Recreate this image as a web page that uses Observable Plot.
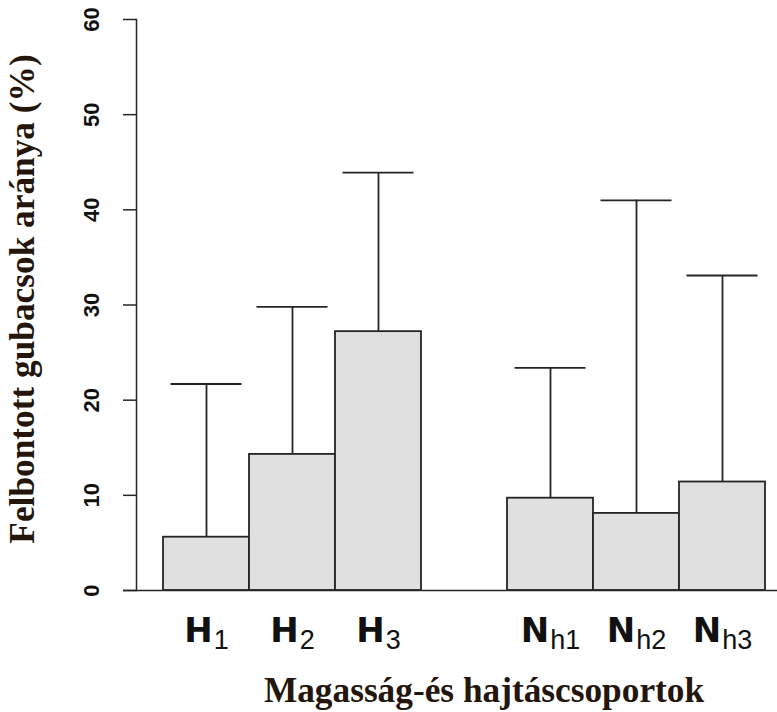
<!DOCTYPE html>
<html><head><meta charset="utf-8">
<script src="https://cdn.jsdelivr.net/npm/d3@7"></script>
<script src="https://cdn.jsdelivr.net/npm/@observablehq/plot@0.6"></script>
<style>body{margin:0;background:#fff} svg{display:block}</style>
</head><body><div id="chart"></div>
<script>
// Categories (underscore marks the subscript part of each label)
const groupH = ["H_1", "H_2", "H_3"];
const groupN = ["N_h1", "N_h2", "N_h3"];
const categories = [...groupH, ...groupN];
// Bar heights (mean %) and upper error-bar ends (%)
const means  = [5.6, 14.3, 27.2, 9.7, 8.1, 11.4];
const uppers = [21.7, 29.8, 43.9, 23.4, 41.0, 33.1];
const yTicks = [0, 10, 20, 30, 40, 50, 60];
const xTitle = "Magasság-és hajtáscsoportok";
const yTitle = "Felbontott gubacsok aránya (%)";
const gap = "gap";

const domain = [...groupH, gap, ...groupN];
const data = categories.map((c, i) => ({cat: c, mean: means[i], upper: uppers[i]}));
const ink = "#252525";
const titleColor = "#24160c";

const plot = Plot.plot({
  width: 777, height: 712,
  marginTop: 19, marginBottom: 122, marginLeft: 136, marginRight: 0,
  x: {type: "band", domain, range: [160, 767], padding: 0, axis: null},
  y: {domain: [0, 60], axis: null},
  style: {background: "#fff"},
  marks: [
    Plot.barY(data, {x: "cat", y: "mean", fill: "#e0e0e0", stroke: ink, strokeWidth: 1.8}),
    Plot.ruleX(data, {x: "cat", y1: "mean", y2: "upper", stroke: ink, strokeWidth: 1.8}),
    Plot.tickY(data, {x: "cat", y: "upper", stroke: ink, strokeWidth: 1.8, insetLeft: 7.5, insetRight: 7.5}),
    Plot.ruleY([0], {stroke: ink, strokeWidth: 1.5, insetLeft: -13}),
    Plot.frame({anchor: "left", stroke: ink, strokeWidth: 1.5}),
    Plot.axisY(yTicks, {tickSize: 13, fill: "none", label: null, stroke: ink, strokeWidth: 1.5}),
    Plot.text(yTicks, {y: d => d, text: d => String(d), frameAnchor: "left", rotate: -90, dx: -38,
      lineAnchor: "bottom", textAnchor: "middle", fontSize: 22, fontWeight: "bold",
      fontFamily: "Liberation Sans, Arial, sans-serif", fill: "#111"}),
    Plot.text(categories, {x: d => d, text: d => d, frameAnchor: "bottom", dy: 51.7,
      lineAnchor: "bottom", textAnchor: "middle", fontSize: 34, fontWeight: "bold",
      fontFamily: "DejaVu Sans, sans-serif", fill: "#111"}),
    Plot.text([xTitle], {text: d => d, frameAnchor: "bottom", dx: 27, dy: 111.7,
      lineAnchor: "bottom", textAnchor: "middle", fontSize: 35.3, fontWeight: "bold",
      fontFamily: "Liberation Serif, Times New Roman, serif", fill: titleColor}),
    Plot.text([yTitle], {text: d => d, frameAnchor: "left", rotate: -90, dx: -102.7, dy: -6,
      lineAnchor: "bottom", textAnchor: "middle", fontSize: 35.3, fontWeight: "bold",
      fontFamily: "Liberation Serif, Times New Roman, serif", fill: titleColor})
  ]
});

document.getElementById("chart").appendChild(plot);

// turn the part after "_" into a subscript
d3.select(plot).selectAll("text").each(function () {
  const t = this.textContent;
  const k = t.indexOf("_");
  if (k < 0) return;
  this.textContent = t.slice(0, k);
  const ts = document.createElementNS("http://www.w3.org/2000/svg", "tspan");
  ts.setAttribute("dy", "6.6");
  ts.setAttribute("dx", "1");
  ts.setAttribute("font-size", "27");
  ts.setAttribute("font-weight", "normal");
  ts.setAttribute("font-family", "Liberation Sans, Arial, sans-serif");
  ts.textContent = t.slice(k + 1);
  this.appendChild(ts);
});
</script>
</body></html>
